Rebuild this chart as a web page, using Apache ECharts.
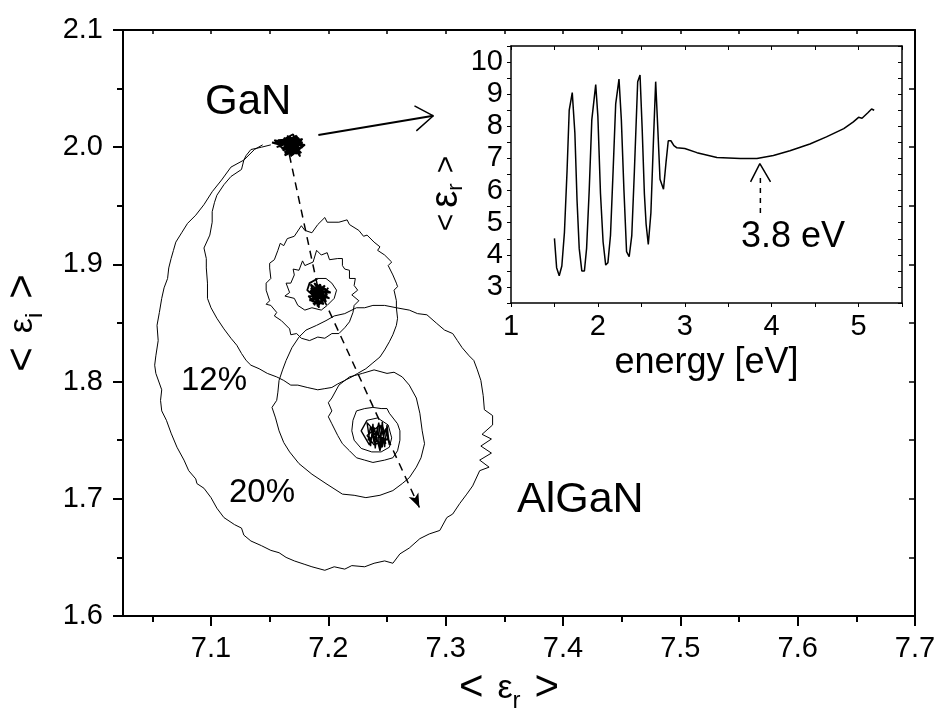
<!DOCTYPE html>
<html>
<head>
<meta charset="utf-8">
<script src="https://cdn.jsdelivr.net/npm/echarts@6/dist/echarts.min.js"></script>
<style>
html, body { margin: 0; padding: 0; background: #fff; }
#chart { width: 937px; height: 713px; }
</style>
</head>
<body>
<div id="chart"></div>
<script>
const FONT = 'Liberation Sans, Arial, sans-serif'

// main plot ticks
const xMajorTicks = [7.1, 7.2, 7.3, 7.4, 7.5, 7.6, 7.7]
const xMinorTicks = [7.05, 7.15, 7.25, 7.35, 7.45, 7.55, 7.65]
const xEdgeTicks = [7.05, 7.1, 7.15, 7.2, 7.25, 7.3, 7.35, 7.4, 7.45, 7.5, 7.55, 7.6, 7.65]

// GaN starting point (noisy cluster)
const ganCluster = [
  [7.162, 2.000], [7.171, 2.006], [7.165, 1.996], [7.175, 2.004], [7.160, 2.004], [7.173, 1.998],
  [7.167, 2.009], [7.178, 2.000], [7.163, 1.993], [7.168, 2.005], [7.174, 2.009], [7.158, 2.001],
  [7.170, 1.995], [7.177, 2.006], [7.166, 1.999], [7.172, 2.002], [7.162, 2.008], [7.175, 1.996],
  [7.168, 2.001], [7.164, 2.005], [7.180, 2.002], [7.169, 1.993], [7.161, 1.998], [7.175, 2.001],
  [7.167, 2.002], [7.155, 2.003], [7.170, 2.011], [7.176, 1.992], [7.165, 2.007], [7.172, 1.997],
  [7.160, 2.006], [7.178, 2.004], [7.166, 1.995], [7.171, 2.000], [7.158, 2.004], [7.168, 2.008],
  [7.163, 1.999], [7.174, 2.006], [7.166, 1.996], [7.177, 2.003], [7.161, 2.002], [7.171, 2.009],
  [7.169, 1.997], [7.179, 2.001], [7.164, 2.006], [7.173, 1.994], [7.167, 2.004], [7.176, 1.999],
  [7.160, 1.999], [7.170, 2.003], [7.165, 2.010], [7.174, 2.000], [7.163, 1.995], [7.172, 2.007],
  [7.157, 2.006], [7.166, 2.001], [7.175, 2.008], [7.169, 1.999], [7.162, 2.003], [7.152, 2.004],
  [7.159, 2.002], [7.154, 2.006], [7.163, 2.004], [7.156, 2.000], [7.170, 2.005], [7.178, 2.007],
  [7.173, 2.003], [7.168, 1.992], [7.171, 1.997], [7.164, 2.002], [7.176, 2.005], [7.167, 2.007],
  [7.173, 2.010], [7.169, 2.004], [7.177, 1.995], [7.165, 2.003], [7.171, 2.002]
]

// 12% Al trajectory
const curve12 = [
  [7.151, 2.002], [7.143, 2.000], [7.134, 1.998], [7.130, 1.993], [7.128, 1.989], [7.126, 1.981],
  [7.117, 1.975], [7.111, 1.968], [7.105, 1.959], [7.103, 1.953], [7.101, 1.945], [7.101, 1.936],
  [7.099, 1.925], [7.094, 1.914], [7.096, 1.905], [7.096, 1.897], [7.097, 1.884], [7.097, 1.871],
  [7.100, 1.863], [7.105, 1.854], [7.111, 1.845], [7.117, 1.837], [7.122, 1.831], [7.126, 1.824],
  [7.130, 1.818], [7.134, 1.814], [7.141, 1.811], [7.148, 1.807], [7.156, 1.804], [7.162, 1.801],
  [7.168, 1.797], [7.174, 1.797], [7.182, 1.795], [7.191, 1.793], [7.197, 1.794], [7.203, 1.795],
  [7.208, 1.798], [7.214, 1.801], [7.220, 1.804], [7.225, 1.807], [7.232, 1.811], [7.238, 1.816],
  [7.244, 1.821], [7.248, 1.827], [7.252, 1.834], [7.255, 1.840], [7.258, 1.848], [7.259, 1.854],
  [7.258, 1.863], [7.258, 1.869], [7.256, 1.878], [7.259, 1.881], [7.258, 1.884], [7.255, 1.891],
  [7.251, 1.899], [7.254, 1.902], [7.248, 1.908], [7.242, 1.912], [7.244, 1.915], [7.239, 1.919],
  [7.233, 1.925], [7.230, 1.924], [7.226, 1.929], [7.218, 1.934], [7.216, 1.938], [7.209, 1.936],
  [7.199, 1.936], [7.197, 1.940], [7.191, 1.934], [7.186, 1.927], [7.180, 1.929], [7.177, 1.933],
  [7.171, 1.924], [7.165, 1.922], [7.162, 1.916], [7.159, 1.918], [7.157, 1.912], [7.154, 1.904],
  [7.150, 1.901], [7.150, 1.897], [7.151, 1.888], [7.147, 1.884], [7.147, 1.878], [7.150, 1.869],
  [7.147, 1.866], [7.151, 1.865], [7.156, 1.859], [7.154, 1.856], [7.160, 1.852], [7.167, 1.845],
  [7.168, 1.840], [7.173, 1.841], [7.177, 1.837], [7.184, 1.835], [7.191, 1.838], [7.197, 1.837],
  [7.203, 1.841], [7.209, 1.841], [7.214, 1.846], [7.218, 1.851], [7.221, 1.859], [7.222, 1.865],
  [7.226, 1.869], [7.220, 1.874], [7.225, 1.878], [7.222, 1.882], [7.223, 1.888], [7.218, 1.888],
  [7.218, 1.895], [7.214, 1.896], [7.212, 1.899], [7.212, 1.905], [7.208, 1.905], [7.201, 1.904],
  [7.199, 1.910], [7.194, 1.908], [7.190, 1.912], [7.187, 1.902], [7.180, 1.899], [7.178, 1.903],
  [7.175, 1.895], [7.170, 1.896], [7.171, 1.891], [7.168, 1.884], [7.164, 1.884], [7.167, 1.876],
  [7.163, 1.873], [7.171, 1.871], [7.174, 1.865], [7.180, 1.861], [7.186, 1.863], [7.194, 1.861],
  [7.199, 1.865], [7.205, 1.871], [7.207, 1.878], [7.203, 1.884], [7.198, 1.888], [7.191, 1.888]
]

// 12% end point (noisy core)
const core12 = [
  [7.191, 1.888], [7.184, 1.884], [7.182, 1.878], [7.192, 1.869], [7.186, 1.874], [7.197, 1.882],
  [7.188, 1.865], [7.194, 1.878], [7.184, 1.869], [7.199, 1.874], [7.191, 1.882], [7.192, 1.863],
  [7.187, 1.880], [7.197, 1.869], [7.185, 1.880], [7.195, 1.872], [7.188, 1.884], [7.199, 1.877],
  [7.184, 1.870], [7.196, 1.866], [7.189, 1.879], [7.201, 1.871], [7.186, 1.875], [7.193, 1.883],
  [7.198, 1.868], [7.183, 1.877], [7.194, 1.874], [7.187, 1.866], [7.200, 1.880], [7.190, 1.870],
  [7.185, 1.883], [7.197, 1.873], [7.191, 1.864], [7.188, 1.876], [7.202, 1.876], [7.192, 1.881],
  [7.186, 1.868], [7.195, 1.878], [7.190, 1.873], [7.183, 1.873], [7.189, 1.867], [7.196, 1.870],
  [7.190, 1.877], [7.198, 1.879], [7.185, 1.878], [7.193, 1.866], [7.188, 1.872], [7.191, 1.876]
]

// 20% Al trajectory
const curve20 = [
  [7.144, 2.002], [7.137, 1.998], [7.128, 1.989], [7.117, 1.983], [7.109, 1.972], [7.101, 1.962],
  [7.094, 1.951], [7.087, 1.942], [7.080, 1.935], [7.075, 1.927], [7.070, 1.919], [7.068, 1.912],
  [7.066, 1.905], [7.064, 1.897], [7.063, 1.888], [7.060, 1.880], [7.058, 1.871], [7.056, 1.859],
  [7.054, 1.848], [7.055, 1.835], [7.053, 1.822], [7.052, 1.814], [7.053, 1.807], [7.058, 1.793],
  [7.057, 1.784], [7.058, 1.775], [7.062, 1.767], [7.066, 1.756], [7.071, 1.744], [7.077, 1.733],
  [7.081, 1.724], [7.087, 1.717], [7.088, 1.713], [7.094, 1.709], [7.100, 1.701], [7.105, 1.692],
  [7.111, 1.684], [7.120, 1.678], [7.126, 1.675], [7.128, 1.669], [7.134, 1.664], [7.143, 1.660],
  [7.151, 1.656], [7.158, 1.654], [7.164, 1.650], [7.171, 1.647], [7.180, 1.644], [7.186, 1.642],
  [7.197, 1.639], [7.205, 1.642], [7.214, 1.640], [7.220, 1.643], [7.231, 1.642], [7.239, 1.645],
  [7.248, 1.647], [7.255, 1.645], [7.261, 1.653], [7.269, 1.658], [7.278, 1.666], [7.286, 1.670],
  [7.295, 1.673], [7.301, 1.684], [7.306, 1.687], [7.312, 1.696], [7.318, 1.704], [7.323, 1.711],
  [7.329, 1.724], [7.337, 1.727], [7.329, 1.733], [7.339, 1.739], [7.330, 1.745], [7.339, 1.751],
  [7.331, 1.755], [7.340, 1.763], [7.340, 1.771], [7.333, 1.776], [7.332, 1.788], [7.330, 1.801],
  [7.327, 1.810], [7.324, 1.818], [7.320, 1.822], [7.314, 1.829], [7.310, 1.835], [7.306, 1.841],
  [7.299, 1.844], [7.292, 1.850], [7.284, 1.857], [7.276, 1.858], [7.269, 1.861], [7.258, 1.863],
  [7.248, 1.865], [7.238, 1.865], [7.231, 1.863], [7.224, 1.863], [7.214, 1.858], [7.205, 1.856],
  [7.198, 1.852], [7.190, 1.848], [7.181, 1.844], [7.175, 1.838], [7.169, 1.829], [7.164, 1.818],
  [7.161, 1.810], [7.158, 1.801], [7.157, 1.791], [7.156, 1.784], [7.152, 1.778], [7.155, 1.769],
  [7.158, 1.758], [7.162, 1.748], [7.167, 1.740], [7.175, 1.730], [7.186, 1.721], [7.198, 1.713],
  [7.212, 1.704], [7.222, 1.703], [7.232, 1.701], [7.244, 1.703], [7.255, 1.707], [7.263, 1.713],
  [7.269, 1.718], [7.275, 1.727], [7.279, 1.735], [7.282, 1.747], [7.280, 1.758], [7.278, 1.773],
  [7.275, 1.786], [7.269, 1.797], [7.263, 1.804], [7.256, 1.808], [7.250, 1.807], [7.239, 1.810],
  [7.229, 1.807], [7.218, 1.804], [7.209, 1.797], [7.203, 1.786], [7.200, 1.782], [7.203, 1.775],
  [7.200, 1.770], [7.203, 1.764], [7.208, 1.754], [7.212, 1.747], [7.218, 1.741], [7.224, 1.735],
  [7.231, 1.733], [7.238, 1.731], [7.248, 1.733], [7.255, 1.735], [7.259, 1.741], [7.261, 1.750],
  [7.261, 1.758], [7.259, 1.764], [7.252, 1.773], [7.250, 1.777], [7.245, 1.777], [7.238, 1.778],
  [7.231, 1.777], [7.224, 1.775], [7.221, 1.767], [7.220, 1.758], [7.222, 1.750], [7.228, 1.743],
  [7.237, 1.740], [7.245, 1.740], [7.252, 1.744], [7.254, 1.752], [7.251, 1.763], [7.242, 1.769],
  [7.233, 1.767]
]

// 20% end point (noisy core)
const core20 = [
  [7.233, 1.767], [7.228, 1.758], [7.235, 1.746], [7.239, 1.761], [7.244, 1.741], [7.248, 1.758],
  [7.246, 1.744], [7.237, 1.756], [7.242, 1.750], [7.251, 1.751], [7.239, 1.746], [7.233, 1.754],
  [7.244, 1.763], [7.249, 1.747], [7.233, 1.765], [7.236, 1.745], [7.238, 1.764], [7.240, 1.743],
  [7.242, 1.762], [7.244, 1.742], [7.246, 1.766], [7.248, 1.744], [7.250, 1.763], [7.252, 1.746],
  [7.249, 1.760], [7.245, 1.747], [7.243, 1.765], [7.239, 1.748], [7.236, 1.762], [7.234, 1.750],
  [7.240, 1.756], [7.247, 1.752], [7.241, 1.752]
]

// dashed guide GaN -> 12% -> 20%
const dashPath = [[7.1668, 1.9934], [7.1906, 1.8823]]
const dashArrowEnd = [7.2776, 1.6926]

// solid arrow towards the inset
const insetPointer = [[7.1915, 2.0105], [7.2895, 2.0268]]
const insetPointerHead = [[7.2734, 2.0353], [7.2895, 2.0268], [7.2750, 2.0139]]

// inset: <eps_r> vs photon energy
const insetEnergy = [
  1.50, 1.525, 1.555, 1.585, 1.615, 1.645, 1.67, 1.705, 1.735, 1.76, 1.785, 1.815, 1.845, 1.87,
  1.90, 1.93, 1.975, 2.00, 2.03, 2.06, 2.09, 2.115, 2.145, 2.175, 2.205, 2.243, 2.27, 2.30, 2.33,
  2.36, 2.39, 2.42, 2.458, 2.485, 2.51, 2.535, 2.555, 2.58, 2.61, 2.64, 2.665, 2.69, 2.715, 2.755,
  2.785, 2.81, 2.84, 2.875, 2.91, 3.0, 3.14, 3.37, 3.64, 3.83, 4.02, 4.21, 4.44, 4.63, 4.83, 4.94,
  5.00, 5.04, 5.11, 5.15, 5.18
]
const insetEps = [
  4.51, 3.60, 3.35, 3.65, 4.70, 6.60, 8.50, 9.05, 7.80, 5.70, 4.20, 3.50, 3.50, 4.20,
  6.00, 8.20, 9.30, 8.30, 5.90, 4.40, 3.68, 3.75, 4.60, 6.60, 8.70, 9.47, 8.20, 6.00, 4.10,
  3.94, 4.60, 6.60, 9.39, 9.60, 7.90, 5.90, 4.95, 4.32, 5.30, 7.60, 9.39, 7.90, 6.35, 6.04,
  6.90, 7.55, 7.55, 7.40, 7.33, 7.31, 7.18, 7.03, 7.00, 7.00, 7.09, 7.24, 7.45, 7.67, 7.93, 8.14,
  8.28, 8.25, 8.43, 8.54, 8.50
]
const minEnergyMark = [[3.87, 5.30], [3.87, 6.55]]
const minEnergyHead = [[3.757, 6.27], [3.864, 6.84], [3.987, 6.27]]

const chart = echarts.init(document.getElementById('chart'))

const black = '#000'
const thin = { color: black, width: 1 }

const lineSeries = (data, xi, yi, style) => ({
  type: 'line',
  xAxisIndex: xi,
  yAxisIndex: yi,
  data: data,
  showSymbol: false,
  symbol: 'none',
  animation: false,
  silent: true,
  lineStyle: style
})

// "< eps_x >" axis titles
const bigTitleRich = {
  l: { fontSize: 42, fontFamily: FONT, lineHeight: 48, color: black, padding: [0, 14, 0, 0] },
  e: { fontSize: 34, fontFamily: FONT, lineHeight: 48, color: black },
  s: { fontSize: 24, fontFamily: FONT, lineHeight: 48, verticalAlign: 'bottom', color: black },
  g: { fontSize: 42, fontFamily: FONT, lineHeight: 48, color: black, padding: [0, 0, 0, 14] },
  gx: { fontSize: 42, fontFamily: FONT, lineHeight: 48, color: black, padding: [0, 20, 0, 14] }
}

const option = {
  animation: false,
  backgroundColor: '#fff',
  grid: [
    { left: 123, top: 30, width: 792, height: 586, outerBoundsMode: 'none' },
    { left: 511, top: 46, width: 391, height: 257, outerBoundsMode: 'none' }
  ],
  xAxis: [
    {
      type: 'value', gridIndex: 0, position: 'bottom', min: 7.025, max: 7.7,
      axisLine: { lineStyle: { color: black, width: 2 } },
      axisTick: { customValues: xMajorTicks, length: 10, lineStyle: { color: black, width: 2 } },
      axisLabel: {
        customValues: xMajorTicks, margin: 18, color: black, fontSize: 29, fontFamily: FONT,
        formatter: v => v.toFixed(1)
      },
      splitLine: { show: false },
      name: '{l|<}{e|ε}{s|r}{gx|>}',
      nameLocation: 'middle',
      nameGap: 46,
      nameTextStyle: { color: black, rich: bigTitleRich }
    },
    {
      type: 'value', gridIndex: 0, position: 'top', min: 7.025, max: 7.7,
      axisLine: { lineStyle: { color: black, width: 2 } },
      axisTick: { customValues: xEdgeTicks, inside: true, length: 4, lineStyle: { color: black, width: 1.5 } },
      axisLabel: { show: false },
      splitLine: { show: false }
    },
    {
      type: 'value', gridIndex: 0, position: 'bottom', min: 7.025, max: 7.7,
      axisLine: { show: false },
      axisTick: { customValues: xMinorTicks, length: 6, lineStyle: { color: black, width: 2 } },
      axisLabel: { show: false },
      splitLine: { show: false }
    },
    {
      type: 'value', gridIndex: 1, position: 'bottom', min: 1, max: 5.5, interval: 0.5,
      axisLine: { lineStyle: { color: black, width: 1.5 } },
      axisTick: { length: 4, lineStyle: { color: black, width: 1 } },
      axisLabel: {
        margin: 9, color: black, fontSize: 29, fontFamily: FONT,
        formatter: v => (Math.abs(v - Math.round(v)) < 1e-6 ? String(Math.round(v)) : '')
      },
      splitLine: { show: false },
      name: 'energy [eV]',
      nameLocation: 'middle',
      nameGap: 42,
      nameTextStyle: { color: black, fontSize: 36, fontFamily: FONT }
    },
    {
      type: 'value', gridIndex: 1, position: 'top', min: 1, max: 5.5, interval: 0.5,
      axisLine: { lineStyle: { color: black, width: 1.5 } },
      axisTick: { inside: true, length: 4, lineStyle: { color: black, width: 1 } },
      axisLabel: { show: false },
      splitLine: { show: false }
    }
  ],
  yAxis: [
    {
      type: 'value', gridIndex: 0, position: 'left', min: 1.6, max: 2.1, interval: 0.1,
      axisLine: { lineStyle: { color: black, width: 2 } },
      axisTick: { length: 10, lineStyle: { color: black, width: 2 } },
      minorTick: { show: true, splitNumber: 2, length: 6, lineStyle: { color: black, width: 2 } },
      axisLabel: {
        margin: 20, color: black, fontSize: 29, fontFamily: FONT,
        formatter: v => v.toFixed(1)
      },
      splitLine: { show: false },
      name: '{l|<}{e|ε}{s|i}{g|>}',
      nameLocation: 'middle',
      nameRotate: 90,
      nameGap: 76,
      nameTextStyle: { color: black, rich: bigTitleRich }
    },
    {
      type: 'value', gridIndex: 0, position: 'right', min: 1.6, max: 2.1, interval: 0.05,
      axisLine: { lineStyle: { color: black, width: 2 } },
      axisTick: { inside: true, length: 6, lineStyle: { color: black, width: 1.5 } },
      axisLabel: { show: false },
      splitLine: { show: false }
    },
    {
      type: 'value', gridIndex: 1, position: 'left', min: 2.5, max: 10.5, interval: 0.5,
      axisLine: { lineStyle: { color: black, width: 1.5 } },
      axisTick: { length: 4, lineStyle: { color: black, width: 1 } },
      axisLabel: {
        margin: 8, color: black, fontSize: 29, fontFamily: FONT,
        formatter: v => (Math.abs(v - Math.round(v)) < 1e-6 ? String(Math.round(v)) : '')
      },
      splitLine: { show: false },
      name: '{l|<}{e|ε}{s|r}{g|>}',
      nameLocation: 'middle',
      nameRotate: 90,
      nameGap: 44,
      nameTextStyle: {
        color: black,
        rich: {
          l: { fontSize: 30, fontFamily: FONT, lineHeight: 40, color: black, padding: [0, 6, 0, 0] },
          e: { fontSize: 38, fontFamily: FONT, lineHeight: 40, color: black },
          s: { fontSize: 22, fontFamily: FONT, lineHeight: 40, verticalAlign: 'bottom', color: black },
          g: { fontSize: 30, fontFamily: FONT, lineHeight: 40, color: black, padding: [0, 38, 0, 10] }
        }
      }
    },
    {
      type: 'value', gridIndex: 1, position: 'right', min: 2.5, max: 10.5, interval: 0.5,
      axisLine: { lineStyle: { color: black, width: 1.5 } },
      axisTick: { inside: true, length: 4, lineStyle: { color: black, width: 1 } },
      axisLabel: { show: false },
      splitLine: { show: false }
    }
  ],
  series: [
    lineSeries(curve20, 0, 0, thin),
    lineSeries(core20, 0, 0, { color: black, width: 1.4 }),
    lineSeries(curve12, 0, 0, thin),
    lineSeries(core12, 0, 0, { color: black, width: 1.8 }),
    lineSeries(ganCluster, 0, 0, { color: black, width: 1.8 }),
    Object.assign(lineSeries(dashPath, 0, 0, { color: black, width: 1.5, type: [8, 6] }), {
      markLine: {
        silent: true,
        symbol: ['none', 'arrow'],
        symbolSize: [8, 14],
        label: { show: false },
        lineStyle: { color: black, width: 1.5, type: [8, 6] },
        data: [[{ coord: dashPath[1] }, { coord: dashArrowEnd }]]
      }
    }),
    lineSeries(insetPointer, 0, 0, { color: black, width: 2 }),
    lineSeries(insetPointerHead, 0, 0, { color: black, width: 1.5 }),
    lineSeries(insetEnergy.map((e, i) => [e, insetEps[i]]), 3, 2, { color: black, width: 1.5 }),
    lineSeries(minEnergyMark, 3, 2, { color: black, width: 1.5, type: [5, 5] }),
    lineSeries(minEnergyHead, 3, 2, { color: black, width: 1.5 })
  ],
  graphic: [
    { type: 'text', x: 205, y: 102, style: { text: 'GaN', font: '42px ' + FONT, fill: black, align: 'left', verticalAlign: 'middle', textAlign: 'left', textVerticalAlign: 'middle' } },
    { type: 'text', x: 517, y: 500, style: { text: 'AlGaN', font: '43px ' + FONT, fill: black, align: 'left', verticalAlign: 'middle', textAlign: 'left', textVerticalAlign: 'middle' } },
    { type: 'text', x: 181, y: 381, style: { text: '12%', font: '33px ' + FONT, fill: black, align: 'left', verticalAlign: 'middle', textAlign: 'left', textVerticalAlign: 'middle' } },
    { type: 'text', x: 229, y: 493, style: { text: '20%', font: '33px ' + FONT, fill: black, align: 'left', verticalAlign: 'middle', textAlign: 'left', textVerticalAlign: 'middle' } },
    { type: 'text', x: 741, y: 237, style: { text: '3.8 eV', font: '36px ' + FONT, fill: black, align: 'left', verticalAlign: 'middle', textAlign: 'left', textVerticalAlign: 'middle' } }
  ]
}

chart.setOption(option)
</script>
</body>
</html>
